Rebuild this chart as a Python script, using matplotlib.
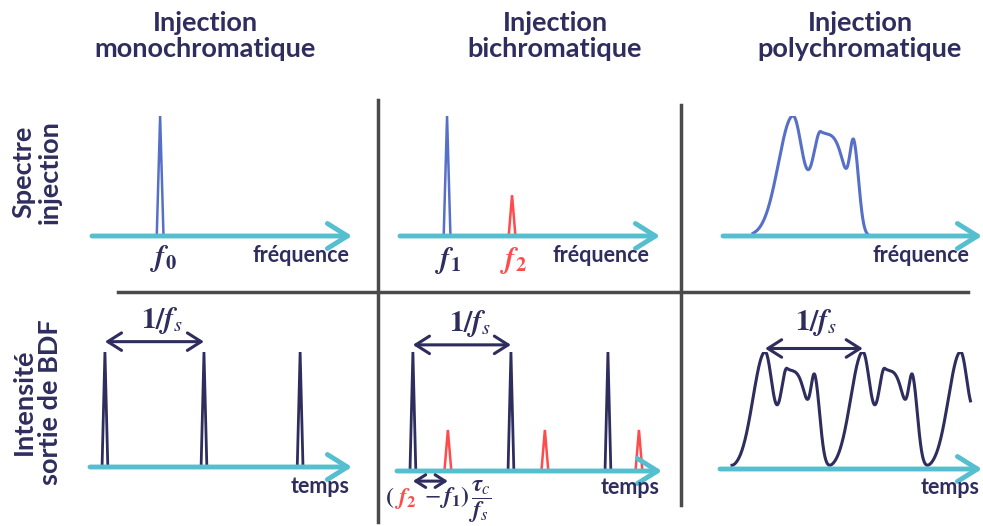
import numpy as np
import matplotlib.pyplot as plt
from matplotlib.lines import Line2D

plt.rcParams['mathtext.fontset'] = 'stix'

W, H = 983, 526
NAVY = '#2e2d5e'
CYAN = '#55bfd0'
BLUE = '#5670c8'
RED = '#ff4b4b'
GREY = '#4a4a4a'

# --- data (arbitrary units: each axis runs 0..100, peak heights relative) ---
titles = ['Injection\nmonochromatique', 'Injection\nbichromatique', 'Injection\npolychromatique']
row_labels = ['Spectre\ninjection', 'Intensité\nsortie de BDF']

mono_freq = [26.2]
mono_height = [1.0]
bi_freq = [18.1, 43.1]
bi_height = [1.0, 0.34]

# polychromatic spectrum: center, height, left/right width, right-side order
poly_c = [27.0, 37.8, 50.6]
poly_h = [1.0, 0.85, 0.65]
poly_sl = [5.6, 3.09, 1.55]
poly_sr = [3.86, 9.34, 1.9]
poly_pr = [2, 4, 2]
poly_span = [11.6, 58.0]

mono_times = [5.7, 43.5, 80.2]
bi_times_f1 = [6.0, 43.0, 79.6]
bi_times_f2 = [19.2, 55.8, 91.3]
bi_f2_height = 0.345

# polychromatic output over one period (repeated every 1/fs)
sig_c = [17.2, 25.6, 36.3]
sig_h = [1.0, 0.84, 0.68]
sig_sl = [4.6, 2.4, 1.53]
sig_sr = [3.0, 7.6, 1.9]
sig_pr = [2, 4, 2]
sig_period = 37.3
sig_span = [4.6, 95.6]


def bumps(x, c, h, sl, sr, pr):
    y = np.zeros_like(x)
    for ci, hi, li, ri, pi in zip(c, h, sl, sr, pr):
        d = x - ci
        left = np.exp(-0.5 * (d / li) ** 2)
        right = np.exp(-0.5 * np.abs(d / ri) ** pi)
        y += hi * np.where(d < 0, left, right)
    return y


def spike(ax, x0, h, hw, color, lw=1.8):
    ax.plot([x0 - hw, x0, x0 + hw], [0, h, 0], color=color, lw=lw, solid_joinstyle='miter')


def panel(x0, x1, y_base, y_top):
    ax = fig.add_axes([x0 / W, 1 - y_base / H, (x1 - x0) / W, (y_base - y_top) / H])
    ax.set_xlim(0, 100)
    ax.set_ylim(0, 1)
    ax.axis('off')
    ax.annotate('', xy=(100, 0), xytext=(0, 0), annotation_clip=False,
                arrowprops=dict(arrowstyle='->,head_length=0.8,head_width=0.5',
                                color=CYAN, lw=3.5, mutation_scale=18, shrinkA=0, shrinkB=0))
    return ax


def dbl_arrow(ax, xa, xb, y, scale=18):
    ax.annotate('', xy=(xb, y), xytext=(xa, y), annotation_clip=False,
                arrowprops=dict(arrowstyle='<->,head_length=0.55,head_width=0.35',
                                color=NAVY, lw=2.2, mutation_scale=scale, shrinkA=0, shrinkB=0))


fig = plt.figure(figsize=(W / 100, H / 100), dpi=100)

label_kw = dict(color=NAVY, fontsize=15.5, fontweight='bold', family='Lato')
math_kw = dict(color=NAVY, fontsize=21)
fs_label = r'$\mathsf{\mathbf{1/}}\mathbfit{f}_{\mathit{s}}$'

# ---- top row: spectra ----
ax = panel(92, 352, 236, 116)
for f, h in zip(mono_freq, mono_height):
    spike(ax, f, h, 1.3, BLUE)
ax.text(27.3, -0.19, r'$\mathbfit{f}_{\mathbf{0}}$', ha='center', va='center', **math_kw)
ax.text(99, -0.16, 'fréquence', ha='right', va='center', **label_kw)

ax = panel(400, 660, 236, 116)
spike(ax, bi_freq[0], bi_height[0], 1.3, BLUE)
spike(ax, bi_freq[1], bi_height[1], 1.3, RED)
ax.text(18.5, -0.2, r'$\mathbfit{f}_{\mathbf{1}}$', ha='center', va='center', **math_kw)
ax.text(43.5, -0.2, r'$\mathbfit{f}_{\mathbf{2}}$', ha='center', va='center',
        color=RED, fontsize=21)
ax.text(96, -0.16, 'fréquence', ha='right', va='center', **label_kw)

ax = panel(723, 982, 236, 116)
xs = np.linspace(poly_span[0], poly_span[1], 600)
ax.plot(xs, bumps(xs, poly_c, poly_h, poly_sl, poly_sr, poly_pr), color=BLUE, lw=2.2)
ax.text(95, -0.16, 'fréquence', ha='right', va='center', **label_kw)

# ---- bottom row: output intensity ----
ax = panel(90, 352, 467, 352)
for t in mono_times:
    spike(ax, t, 1.0, 1.1, NAVY, 2.0)
dbl_arrow(ax, mono_times[0], mono_times[1], 1.09)
ax.text(27.5, 1.27, fs_label, ha='center', va='center', **math_kw)
ax.text(99, -0.17, 'temps', ha='right', va='center', **label_kw)

ax = panel(397, 662, 471, 352)
for t in bi_times_f1:
    spike(ax, t, 1.0, 1.1, NAVY, 2.0)
for t in bi_times_f2:
    spike(ax, t, bi_f2_height, 1.3, RED)
dbl_arrow(ax, bi_times_f1[0], bi_times_f1[1], 1.06)
ax.text(27.5, 1.24, fs_label, ha='center', va='center', **math_kw)
dbl_arrow(ax, bi_times_f1[0], bi_times_f2[0], -0.085, scale=13)
ax.text(99, -0.14, 'temps', ha='right', va='center', **label_kw)
yb = -0.275
ax.text(-4.4, yb, r'$\mathbf{(}$', ha='left', va='baseline', color=NAVY, fontsize=17)
ax.text(-1.3, yb, r'$\mathbfit{f}_{\mathbf{2}}$', ha='left', va='baseline', color=RED, fontsize=17)
ax.text(10.2, yb, r'$-\,\mathbfit{f}_{\mathbf{1}}\mathbf{)}\,\dfrac{\mathbfit{\tau}_{\mathit{c}}}{\mathbfit{f}_{\mathit{s}}}$',
        ha='left', va='baseline', color=NAVY, fontsize=17)

ax = panel(720, 982, 469, 352)
xs = np.linspace(sig_span[0], sig_span[1], 1200)
ys = sum(bumps(xs - k * sig_period, sig_c, sig_h, sig_sl, sig_sr, sig_pr) for k in range(-1, 3))
ax.plot(xs, ys, color=NAVY, lw=2.2)
dbl_arrow(ax, sig_c[0], sig_c[0] + sig_period, 1.03)
ax.text(36.8, 1.25, fs_label, ha='center', va='center', **math_kw)
ax.text(99, -0.16, 'temps', ha='right', va='center', **label_kw)

# ---- dividers ----
for xx, yy in [([378, 378], [100, 522]), ([681, 681], [105, 505]), ([118, 968], [292, 292])]:
    fig.add_artist(Line2D(np.array(xx) / W, 1 - np.array(yy) / H, color=GREY, lw=2.5))

# ---- titles and row labels ----
for cx, t in zip([205, 555, 860], titles):
    fig.text(cx / W, 1 - 36 / H, t, ha='center', va='center', color=NAVY,
             fontsize=19.5, fontweight='bold', family='Lato', linespacing=1.08)
for cy, t in zip([172, 402], row_labels):
    fig.text(37 / W, 1 - cy / H, t, ha='center', va='center', rotation=90, color=NAVY,
             fontsize=19.5, fontweight='bold', family='Lato', linespacing=1.12)

fig.savefig('out.png', dpi=100, facecolor='white')
